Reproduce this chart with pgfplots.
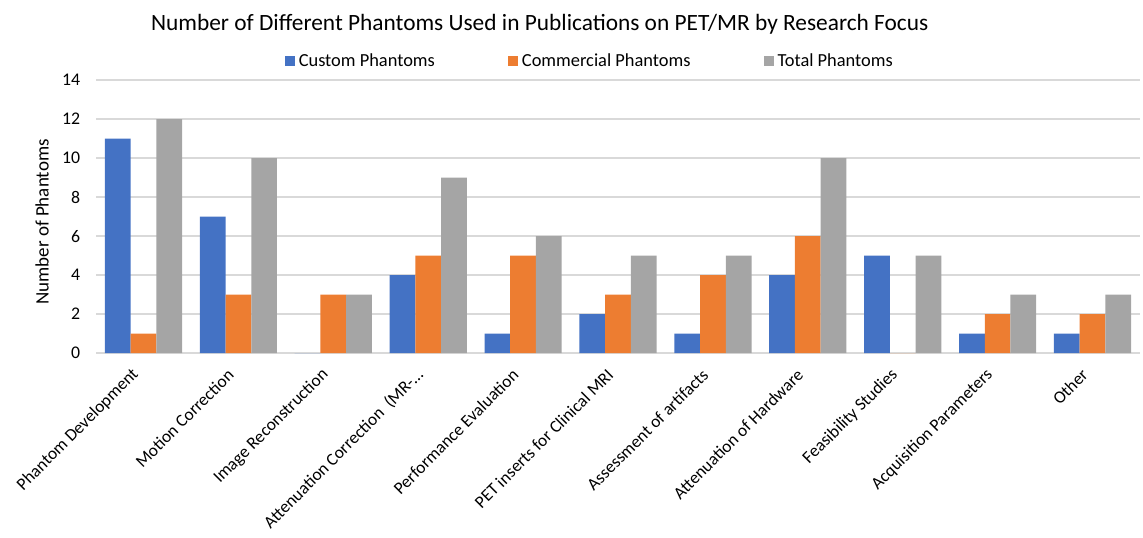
\documentclass[border=0pt]{standalone}
\usepackage{fontspec}
\setmainfont{Carlito}
\usepackage{pgfplots}
\pgfplotsset{compat=1.18}
\definecolor{cblue}{HTML}{4472C4}
\definecolor{corange}{HTML}{ED7D31}
\definecolor{cgray}{HTML}{A5A5A5}
\definecolor{cgrid}{HTML}{D9D9D9}
\begin{document}
\begin{tikzpicture}
\begin{axis}[
    width=527.5pt, height=138pt,
    scale only axis,
    ybar=0pt, bar width=13pt,
    xmin=-0.5, xmax=10.5,
    ymin=0, ymax=14,
    ytick={0,2,...,14},
    xtick=data,
    xticklabels={Phantom Development, Motion Correction, Image Reconstruction,
        {Attenuation Correction\ \ (MR-…}, Performance Evaluation,
        PET inserts for Clinical MRI, Assessment of artifacts,
        Attenuation of Hardware, Feasibility Studies, Acquisition Parameters, Other},
    x tick label style={rotate=45, anchor=east, font=\fontsize{8.8}{10}\selectfont, xshift=-6pt, yshift=-4pt},
    y tick label style={font=\fontsize{9}{10}\selectfont, xshift=-4.5pt},
    /pgf/number format/assume math mode=true,
    major tick length=0pt,
    axis x line*=bottom, axis y line*=left,
    x axis line style={draw=cgrid, line width=0.9pt},
    y axis line style={draw=none},
    ymajorgrids, grid style={draw=cgrid, line width=0.8pt},
    ylabel={Number of Phantoms},
    ylabel style={at={(rel axis cs:-0.0517,0.48)}, anchor=center, font=\fontsize{9.6}{11}\selectfont},
    title={Number of Different Phantoms Used in Publications on PET/MR by Research Focus},
    title style={at={(0.425,1)}, anchor=center, yshift=22pt, font=\fontsize{11.8}{13}\selectfont},
    legend style={at={(0.474,1)}, anchor=center, yshift=9.5pt, draw=none, fill=none,
        legend columns=3, font=\fontsize{9.3}{10}\selectfont,
        /tikz/every even column/.append style={column sep=35pt}},
    legend cell align=left,
    legend image code/.code={\fill[#1,draw=none] (0pt,-2.5pt) rectangle (5pt,2.5pt);},
]
\addplot[fill=cblue, draw=none] coordinates {(0,11) (1,7) (2,0) (3,4) (4,1) (5,2) (6,1) (7,4) (8,5) (9,1) (10,1)};
\addplot[fill=corange, draw=none] coordinates {(0,1) (1,3) (2,3) (3,5) (4,5) (5,3) (6,4) (7,6) (8,0) (9,2) (10,2)};
\addplot[fill=cgray, draw=none] coordinates {(0,12) (1,10) (2,3) (3,9) (4,6) (5,5) (6,5) (7,10) (8,5) (9,3) (10,3)};
\legend{Custom Phantoms, Commercial Phantoms, Total Phantoms}
% frame of the whole figure, as in the reference
\coordinate (bbsw) at (rel axis cs:-0.092,-0.674);
\coordinate (bbne) at (rel axis cs:1.0029,1.293);
\end{axis}
\pgfresetboundingbox
\path[use as bounding box] (bbsw) rectangle (bbne);
\end{tikzpicture}
\end{document}
